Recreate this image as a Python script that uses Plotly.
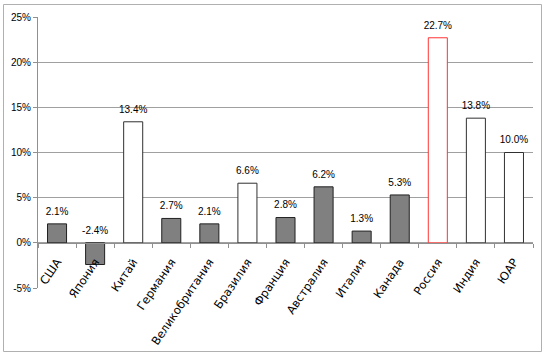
import plotly.graph_objects as go

categories = ["США", "Япония", "Китай", "Германия", "Великобритания", "Бразилия",
              "Франция", "Австралия", "Италия", "Канада", "Россия", "Индия", "ЮАР"]
values = [2.1, -2.4, 13.4, 2.7, 2.1, 6.6, 2.8, 6.2, 1.3, 5.3, 22.7, 13.8, 10.0]
groups = ["g", "g", "w", "g", "g", "w", "g", "g", "g", "g", "r", "w", "w"]
y_ticks = [-5, 0, 5, 10, 15, 20, 25]
y_tick_labels = ["-5%", "0%", "5%", "10%", "15%", "20%", "25%"]

fill_map = {"g": "#808080", "w": "#ffffff", "r": "#ffffff"}
line_map = {"g": "#202020", "w": "#303030", "r": "#ff3333"}

fig = go.Figure()
fig.add_trace(go.Bar(
    x=categories, y=values,
    marker=dict(color=[fill_map[g] for g in groups],
                line=dict(color=[line_map[g] for g in groups], width=1)),
    hoverinfo="skip",
))
fig.add_trace(go.Scatter(
    x=categories, y=[max(v, 0) for v in values],
    mode="markers+text",
    marker=dict(size=9, opacity=0),
    text=[f"{v:.1f}%" for v in values],
    textposition="top center",
    textfont=dict(family="Liberation Sans", size=10, color="#000000"),
    hoverinfo="skip",
    cliponaxis=False,
))

ymin, ymax = -5, 25
L, T, W, H = 38, 17, 495, 271
fig.update_layout(
    width=547, height=357,
    margin=dict(l=L, r=547 - L - W, t=T, b=357 - T - H, autoexpand=False),
    paper_bgcolor="white", plot_bgcolor="white",
    showlegend=False,
    bargap=0.5,
    font=dict(family="Liberation Sans", color="#000000"),
    xaxis=dict(
        type="category",
        range=[-0.5, len(categories) - 0.5],
        anchor="free",
        position=(0 - ymin) / (ymax - ymin),
        automargin=False,
        showgrid=False,
        showline=True, linecolor="#909090", linewidth=1,
        ticks="outside", ticklen=4, tickcolor="#909090",
        tickson="boundaries",
        tickangle=-56,
        ticklabelstandoff=7,
        tickfont=dict(family="DejaVu Sans", size=11.5, color="#000000"),
    ),
    yaxis=dict(
        range=[ymin, ymax],
        domain=[0, 1],
        automargin=False,
        tickvals=y_ticks, ticktext=y_tick_labels,
        showgrid=True, gridcolor="#a0a0a0", gridwidth=1,
        zeroline=False,
        showline=True, linecolor="#909090", linewidth=1,
        ticks="outside", ticklen=4, tickcolor="#909090",
        tickfont=dict(family="Liberation Sans", size=10, color="#000000"),
    ),
    shapes=[dict(
        type="rect", xref="paper", yref="paper",
        x0=(3.5 - L) / W, x1=(541.5 - L) / W,
        y0=(T + H - 351.5) / H, y1=(T + H - 4.5) / H,
        line=dict(color="#b0b0b0", width=1), fillcolor="rgba(0,0,0,0)",
        layer="below",
    )],
)

fig.write_html("out.html",
               config={"displayModeBar": False, "staticPlot": True},
               post_script="document.body.style.margin='0';document.body.style.overflow='hidden';")
